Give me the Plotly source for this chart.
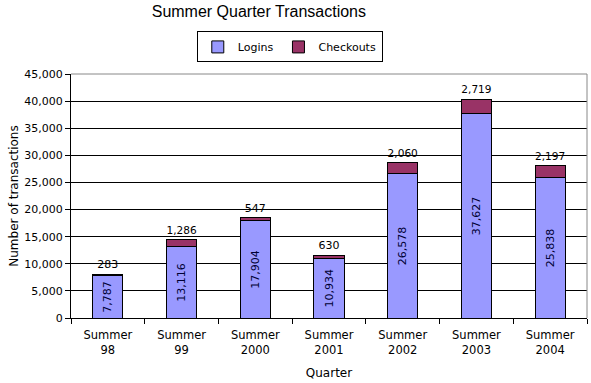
import plotly.graph_objects as go

categories = ["Summer<br>98", "Summer<br>99", "Summer<br>2000", "Summer<br>2001",
              "Summer<br>2002", "Summer<br>2003", "Summer<br>2004"]
logins = [7787, 13116, 17904, 10934, 26578, 37627, 25838]
checkouts = [283, 1286, 547, 630, 2060, 2719, 2197]

FONT = "DejaVu Sans"

fig = go.Figure()
fig.add_trace(go.Bar(
    x=categories, y=logins, name="Logins",
    marker=dict(color="#9999FF", line=dict(color="black", width=1)),
    text=[f"{v:,}" for v in logins], textposition="inside",
    insidetextanchor="middle", textangle=-90,
    textfont=dict(family=FONT, size=11, color="#000033"),
))
fig.add_trace(go.Bar(
    x=categories, y=checkouts, name="Checkouts",
    marker=dict(color="#993366", line=dict(color="black", width=1)),
    text=[f"{v:,}" for v in checkouts], textposition="outside",
    textangle=0, textfont=dict(family=FONT, size=11, color="black"),
    cliponaxis=False,
))

fig.update_layout(
    barmode="stack", bargap=0.59,
    width=591, height=383,
    margin=dict(l=71, r=4, t=74, b=65, autoexpand=False),
    paper_bgcolor="white", plot_bgcolor="white",
    font=dict(family=FONT, size=11, color="black"),
    title=dict(text="Summer Quarter Transactions", x=0.438, xanchor="center",
               y=1 - 11 / 383, yanchor="middle",
               font=dict(family="Liberation Sans", size=16, color="black")),
    legend=dict(orientation="h", x=0.424, xanchor="center", y=1.111, yanchor="middle",
                bordercolor="black", borderwidth=1, bgcolor="white",
                font=dict(family=FONT, size=11), itemwidth=30,
                traceorder="normal", tracegroupgap=0),
    xaxis=dict(title=dict(text="Quarter", font=dict(family=FONT, size=12), standoff=12),
               showline=True, linecolor="black", linewidth=1,
               ticks="outside", tickson="boundaries", ticklen=5, tickcolor="black",
               ticklabelstandoff=6,
               tickfont=dict(family=FONT, size=11.5), showgrid=False),
    yaxis=dict(title=dict(text="Number of transactions", font=dict(family=FONT, size=12), standoff=3),
               range=[0, 45000], dtick=5000, tickformat=",",
               showline=True, linecolor="black", linewidth=1,
               ticks="outside", ticklen=5, tickcolor="black",
               gridcolor="black", gridwidth=1,
               tickfont=dict(family=FONT, size=11), zeroline=False),
)
fig.add_shape(type="line", xref="paper", yref="paper", x0=0, x1=1, y0=1, y1=1,
              line=dict(color="#888888", width=1))
fig.add_shape(type="line", xref="paper", yref="paper", x0=1, x1=1, y0=0, y1=1,
              line=dict(color="#888888", width=1))

fig.write_html("out.html", config={"displayModeBar": False},
               post_script="document.body.style.margin='0px';")
